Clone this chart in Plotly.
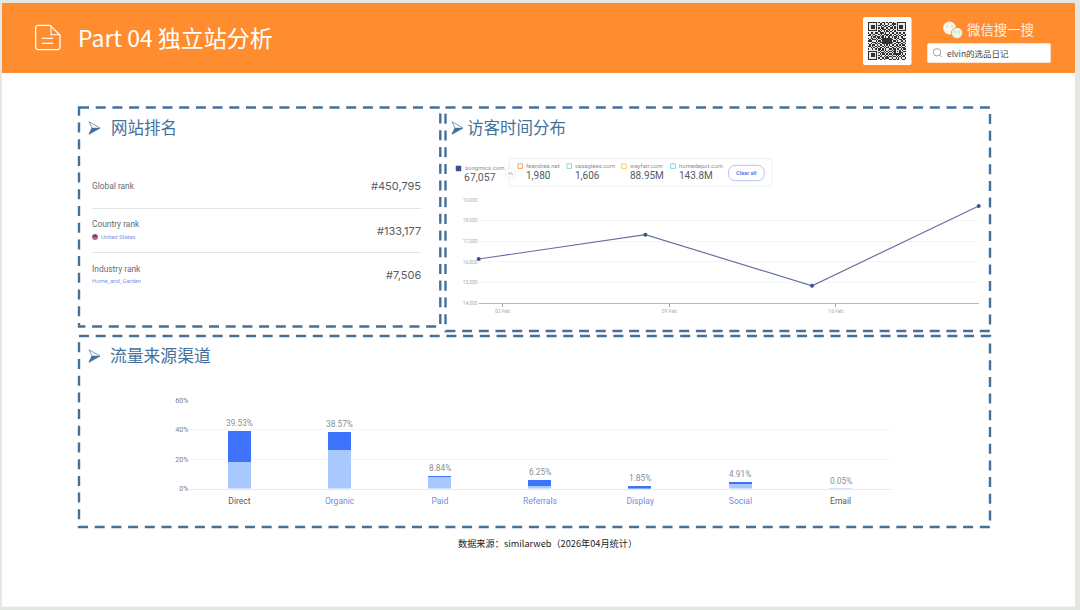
import plotly.graph_objects as go

# ---------- data ----------
line_dates = ["2026-02-01", "2026-02-08", "2026-02-15", "2026-02-22"]
line_values = [16143, 17320, 14850, 18707]
line_ticks = ["2026-02-02", "2026-02-09", "2026-02-16"]
line_y_ticks = [14000, 15000, 16000, 17000, 18000, 19000]

channels = ["Direct", "Organic", "Paid", "Referrals", "Display", "Social", "Email"]
channel_colors = ["#555b66", "#6f8ee6", "#6f8ee6", "#6f8ee6", "#6f8ee6", "#6f8ee6", "#555b66"]
light_values = [18.4, 26.8, 8.2, 2.0, 0.6, 3.8, 0.05]
dark_values = [21.13, 11.77, 0.64, 4.25, 1.25, 1.11, 0.0]
totals = [39.53, 38.57, 8.84, 6.25, 1.85, 4.91, 0.05]
total_labels = ["39.53%", "38.57%", "8.84%", "6.25%", "1.85%", "4.91%", "0.05%"]
bar_y_ticks = [0, 20, 40, 60]
bar_y_labels = ["0%", "20%", "40%", "60%"]

rank_rows = [("Global rank", "#450,795", 186), ("Country rank", "#133,177", 231), ("Industry rank", "#7,506", 275)]
compare_sites = [
    ("feandrea.net", "1,980", 520.3, "#F5A25E"),
    ("vasagle" + "es.com", "1,606", 569.3, "#86E0BE"),
    ("wayfair.com", "88.95M", 624, "#F7CE68"),
    ("homedepot.com", "143.8M", 673, "#78D8EE"),
]

qr_rows = [
    "11111110100110101101001111111",
    "10000010011010010011101000001",
    "10111010110101100101001011101",
    "10111010001011011010101011101",
    "10111010101100100110101011101",
    "10000010010111011001001000001",
    "11111110101010101010101111111",
    "00000000110010110100100000000",
    "10110111011101001011011010010",
    "01001000101011110100100101101",
    "11010110010100101101011010011",
    "00101101101101011010110101100",
    "10110010110111111100101100111",
    "01011101001111111110010011010",
    "11100010110111111101101001101",
    "00011101011111111110011110010",
    "10100110100111111100100101101",
    "01011001011010101011011010110",
    "11010110100101010100101101001",
    "00101001011010110011010010110",
    "10010110110101001101101101011",
    "00000000101101010010100010100",
    "11111110010010101101101010011",
    "10000010101101010010100011100",
    "10111010010110101101111110101",
    "10111010101001010010010101010",
    "10111010011010101101101010110",
    "10000010100101110010010101001",
    "11111110011010001101101100110",
]
qr_matrix = [[int(c) for c in r] for r in reversed(qr_rows)]

# ---------- colours and helpers ----------
W, H = 1080, 610
CJK = "Noto Sans CJK SC"
BLUE = "#44719B"
ORANGE = "#FF8C2F"

def X(px):
    return px / W

def Y(py):
    return 1 - py / H

def P(pts, close=True):
    s = "M " + " L ".join(f"{X(x):.5f},{Y(y):.5f}" for x, y in pts)
    return s + (" Z" if close else "")

def rrect_path(x0, y0, x1, y1, r):
    q = lambda a, b: f"{X(a):.5f},{Y(b):.5f}"
    return (f"M {q(x0+r,y0)} L {q(x1-r,y0)} Q {q(x1,y0)} {q(x1,y0+r)} L {q(x1,y1-r)} "
            f"Q {q(x1,y1)} {q(x1-r,y1)} L {q(x0+r,y1)} Q {q(x0,y1)} {q(x0,y1-r)} "
            f"L {q(x0,y0+r)} Q {q(x0,y0)} {q(x0+r,y0)} Z")

shapes = []
annots = []

def rect(x0, y0, x1, y1, fill=None, line=None, lw=0, dash=None, layer="below"):
    shapes.append(dict(type="rect", xref="paper", yref="paper", x0=X(x0), x1=X(x1), y0=Y(y0), y1=Y(y1),
                       fillcolor=fill or "rgba(0,0,0,0)", layer=layer,
                       line=dict(color=line or "rgba(0,0,0,0)", width=lw, **({"dash": dash} if dash else {}))))

def path(d, fill=None, line=None, lw=0, layer="below"):
    shapes.append(dict(type="path", xref="paper", yref="paper", path=d, layer=layer,
                       fillcolor=fill or "rgba(0,0,0,0)",
                       line=dict(color=line or "rgba(0,0,0,0)", width=lw)))

def circle(cx, cy, r, fill=None, line=None, lw=0, layer="below"):
    shapes.append(dict(type="circle", xref="paper", yref="paper", x0=X(cx-r), x1=X(cx+r), y0=Y(cy+r), y1=Y(cy-r),
                       fillcolor=fill or "rgba(0,0,0,0)", layer=layer,
                       line=dict(color=line or "rgba(0,0,0,0)", width=lw)))

def hline(x0, x1, y, color, lw=1):
    shapes.append(dict(type="line", xref="paper", yref="paper", x0=X(x0), x1=X(x1), y0=Y(y), y1=Y(y),
                       layer="below", line=dict(color=color, width=lw)))

def text(x, y, s, size, color, anchor="left", font="Roboto"):
    annots.append(dict(xref="paper", yref="paper", x=X(x), y=Y(y), text=s, showarrow=False, xanchor=anchor,
                       yanchor="middle", align=anchor, borderpad=0, borderwidth=0,
                       font=dict(size=size, color=color, family=font)))

# page and header
rect(2, 3, 1075, 606.5, fill="#FFFFFF")
rect(2, 3, 1075, 73, fill=ORANGE)
path(P([(37.5, 25.3), (50, 25.3), (60, 35), (60, 48), (58.5, 49.7), (37.5, 49.7), (35.7, 48), (35.7, 27)]),
     line="#FFFFFF", lw=1.3)
path(P([(51, 25.5), (51, 34.7), (60, 34.7)], close=False), line="#FFFFFF", lw=1.1)
hline(41.7, 53, 38.3, "#FFFFFF", 1.2)
hline(41.7, 53, 43.3, "#FFFFFF", 1.2)
text(78, 36.7, "Part 04 独立站分析", 23, "#FFFFFF", font=CJK)

path(rrect_path(863, 17, 911.5, 65, 2), fill="#FFFFFF")
circle(949.5, 28, 6.4, fill="#FFF4EA")
circle(957, 33, 5.6, fill="#E4F7E8", line=ORANGE, lw=0.8)
circle(947, 26, 0.8, fill="#9ad8a8")
circle(952, 26, 0.8, fill="#9ad8a8")
circle(955, 32, 0.7, fill="#9ad8a8")
circle(959, 32, 0.7, fill="#9ad8a8")
text(967, 29, "微信搜一搜", 13.4, "#FFF1E4", font=CJK)
path(rrect_path(927.3, 43.3, 1050.7, 62.7, 1.5), fill="#FFFFFF")
circle(937, 52.3, 3.7, line="#8a8a8a", lw=0.8)
shapes.append(dict(type="line", xref="paper", yref="paper", x0=X(939.7), y0=Y(55), x1=X(942), y1=Y(57.3),
                   layer="below", line=dict(color="#8a8a8a", width=0.8)))
text(947, 53, "elvin的选品日记", 8.5, "#444444", font=CJK)

# dashed panels
DASH = "10px,6.7px"
rect(79, 107.5, 440.3, 326.5, line=BLUE, lw=2.4, dash=DASH)
rect(445.5, 107.5, 990, 331, line=BLUE, lw=2.4, dash=DASH)
rect(79, 336, 990, 527, line=BLUE, lw=2.4, dash=DASH)

def arrow(x, y):
    path(P([(x, y-6.2), (x+11, y), (x, y+6.2), (x+3, y)]), fill="#FFFFFF", line=BLUE, lw=0.7)
    path(P([(x, y+6.2), (x+11, y), (x+3, y)]), fill=BLUE, line=BLUE, lw=0.4)

arrow(89, 128)
arrow(452, 128)
arrow(89, 356)
text(111, 126.8, "网站排名", 16.5, BLUE, font=CJK)
text(467, 126.8, "访客时间分布", 16.5, BLUE, font=CJK)
text(110, 354.8, "流量来源渠道", 16.8, BLUE, font=CJK)
text(547, 543, "数据来源：similarweb（2026年04月统计）", 9.2, "#222222", anchor="center", font=CJK)

# rank panel
hline(92, 421, 208.5, "#E2E4E8")
hline(92, 421, 252.5, "#E2E4E8")
text(92, 186, rank_rows[0][0], 8.4, "#666C75")
text(92, 224.5, rank_rows[1][0], 8.4, "#666C75")
text(92, 268.5, rank_rows[2][0], 8.4, "#666C75")
for _, value, y in rank_rows:
    text(421, y, value, 11, "#555B64", anchor="right", font="Inter")
circle(95, 237, 3, fill="#C9606E")
path(P([(92, 237), (95, 234), (98, 237)]), fill="#3F4F95")
text(100.5, 236.5, "United States", 5.8, "#7D96E6")
text(92, 280.5, "Home_and_Garden", 5.8, "#7D96E6")

# legend card of the line chart
rect(456, 166, 461, 171, fill="#3F4E8E", line="#3F4E8E", lw=0.5)
text(464.5, 167.7, "songmics.com", 6, "#8A9099")
text(464, 177.8, "67,057", 10.5, "#555B64")
path(rrect_path(509.3, 158.7, 772, 186.3, 3), fill="#FFFFFF", line="#E8EBF0", lw=0.8)
circle(510.5, 173, 5, fill="#FFFFFF", line="#E4E7EC", lw=0.7)
text(510.5, 173, "VS.", 3.8, "#8A9099", anchor="center")
for name, value, bx, col in compare_sites:
    rect(bx-2.3, 163.8, bx+2.3, 168.4, line=col, lw=1)
    text(bx+6, 166, name, 6, "#8A9099")
    text(bx+6, 176, value, 10, "#555B64")
path(rrect_path(728.3, 165.3, 764.3, 180.7, 7.7), fill="#FFFFFF", line="#A9BDF0", lw=0.9)
text(746.3, 173, "<b>Clear all</b>", 5.6, "#5B7FDC", anchor="center")

# value labels above the bars, bound to the bar axes
for name, total, label in zip(channels, totals, total_labels):
    annots.append(dict(xref="x2", yref="y2", x=name, y=total, text=label, showarrow=False, yanchor="bottom",
                       xanchor="center", yshift=2.5, borderpad=0, borderwidth=0,
                       font=dict(size=8.3, color="#8A8F97", family="Roboto")))

# ---------- traces ----------
fig = go.Figure()
fig.add_trace(go.Scatter(
    x=line_dates, y=line_values, mode="lines+markers", xaxis="x", yaxis="y",
    line=dict(color="#6672A2", width=1.2), marker=dict(color="#3F4E8E", size=4),
    cliponaxis=False, showlegend=False))

fig.add_trace(go.Bar(
    x=channels, y=light_values, xaxis="x2", yaxis="y2", width=0.23,
    marker=dict(color="#A9C8FD", line=dict(color="#A9C8FD", width=[0, 0, 0, 0, 0, 0, 2])),
    showlegend=False))
fig.add_trace(go.Bar(
    x=channels, y=dark_values, xaxis="x2", yaxis="y2", width=0.23,
    marker=dict(color="#3D72FA", line=dict(width=0)), showlegend=False))

fig.add_trace(go.Heatmap(
    z=qr_matrix, xaxis="x3", yaxis="y3", showscale=False, hoverinfo="skip",
    colorscale=[[0, "#E8E8E6"], [1, "#303030"]], zmin=0, zmax=1))

fig.update_layout(
    template="none",
    width=W, height=H, autosize=False, margin=dict(l=0, r=0, t=0, b=0, pad=0),
    paper_bgcolor="#E5E8E2", plot_bgcolor="rgba(0,0,0,0)", barmode="stack", bargap=0,
    shapes=shapes, annotations=annots,
    font=dict(family="Roboto"),
    xaxis=dict(domain=[X(478.7), X(978.7)], type="date", range=["2026-02-01", "2026-02-22"],
               tickmode="array", tickvals=line_ticks, tickformat="%d %b", ticks="outside", ticklen=2.5,
               tickcolor="#A0A4AA", tickwidth=0.7, tickfont=dict(size=5, color="#AAAEB4"),
               showgrid=False, showline=True, linecolor="#B4B7BC", linewidth=1, zeroline=False,
               anchor="y", fixedrange=True, automargin=False),
    yaxis=dict(domain=[Y(303.3), Y(200)], range=[14000, 19000], tickmode="array", tickvals=line_y_ticks,
               tickformat=",", tickfont=dict(size=5, color="#AAAEB4"), showgrid=True, gridcolor="#F4F5F6",
               gridwidth=1, zeroline=False, showline=False, ticks="", anchor="x", fixedrange=True, automargin=False),
    xaxis2=dict(domain=[X(189.3), X(890.7)], type="category", categoryorder="array", categoryarray=channels,
                range=[-0.5, 6.5], tickmode="array", tickvals=channels,
                ticktext=[f'<span style="color:{c}">{n}</span>' for n, c in zip(channels, channel_colors)],
                tickfont=dict(size=8.5, family="Roboto"), ticks="", ticklabelstandoff=4,
                showgrid=False, showline=True, linecolor="#E6E9EE", linewidth=1.4, zeroline=False,
                anchor="y2", fixedrange=True, automargin=False),
    yaxis2=dict(domain=[Y(488.5), Y(400.5)], range=[0, 60], tickmode="array", tickvals=bar_y_ticks,
                ticktext=bar_y_labels, tickfont=dict(size=7, color="#777C84"), showgrid=True, gridcolor="#F4F5F7",
                gridwidth=1, zeroline=False, showline=False, ticks="", anchor="x2", fixedrange=True, automargin=False),
    xaxis3=dict(domain=[X(868), X(906)], visible=False, anchor="y3", fixedrange=True, automargin=False),
    yaxis3=dict(domain=[Y(60), Y(22)], visible=False, anchor="x3", fixedrange=True, automargin=False),
)

fig.write_html("out.html", config={"displayModeBar": False},
               post_script="document.body.style.margin='0';document.body.style.overflow='hidden';")
